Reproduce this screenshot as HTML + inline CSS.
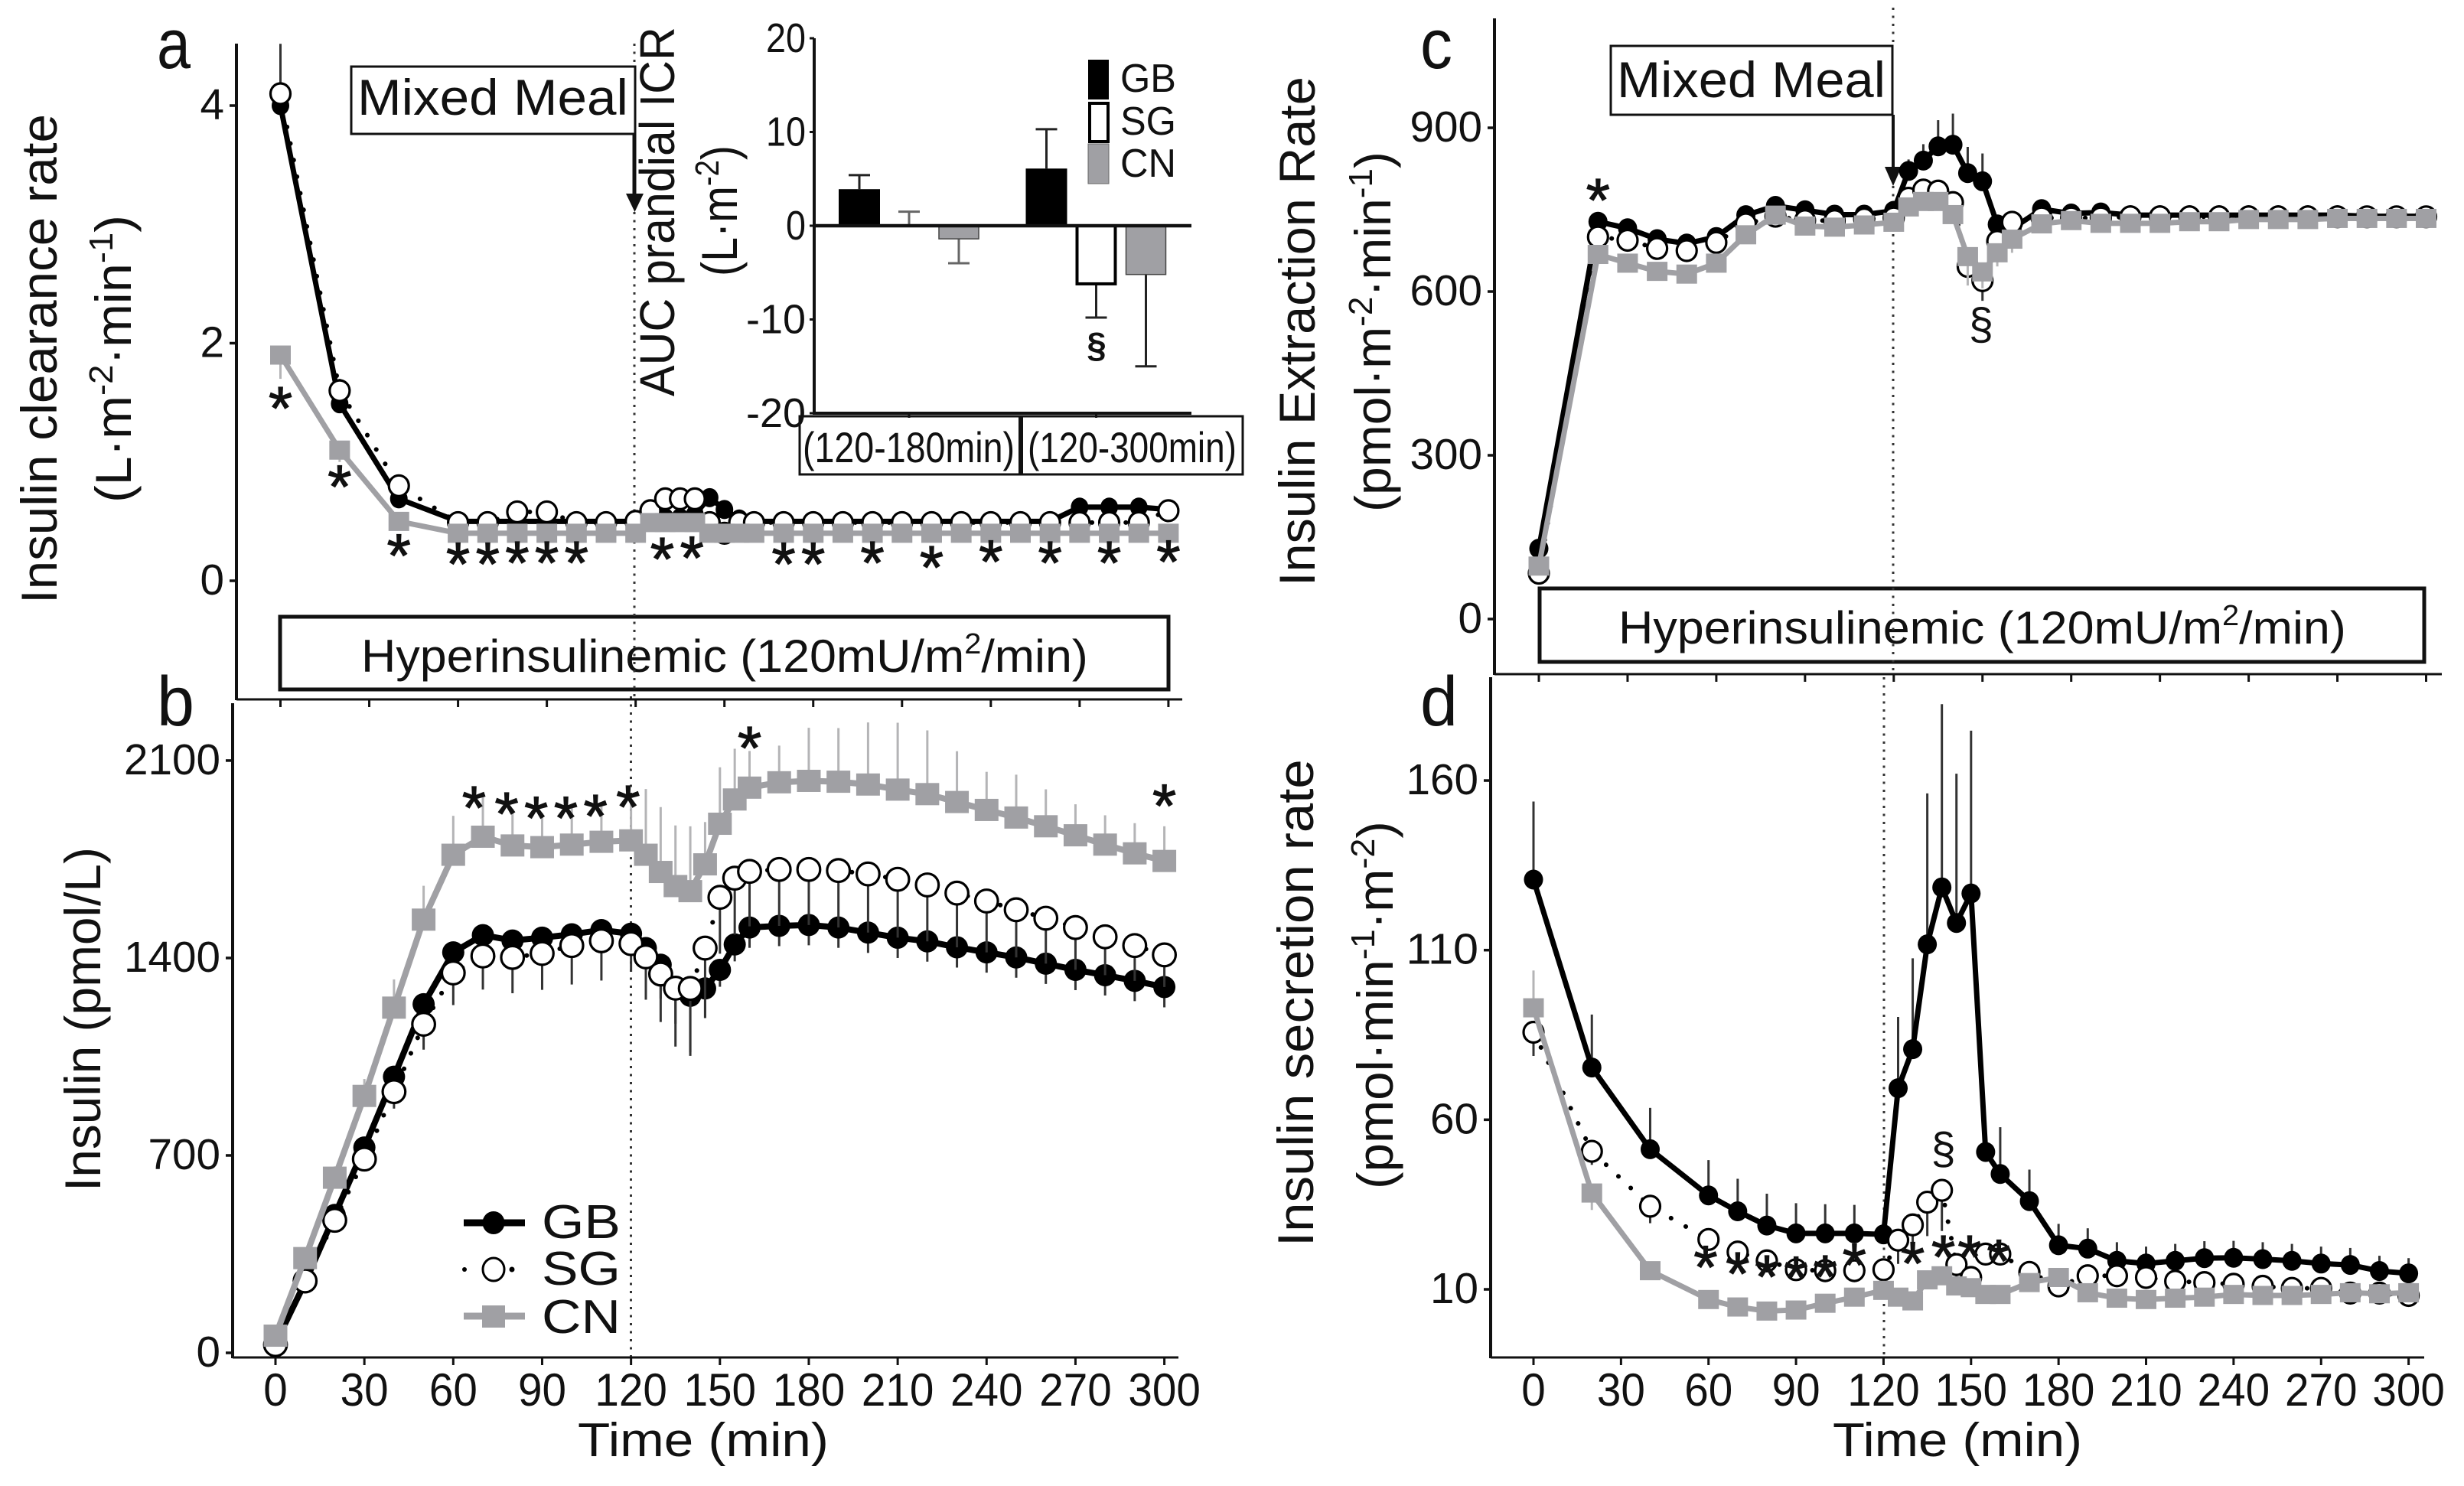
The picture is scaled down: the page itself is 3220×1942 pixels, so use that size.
<!DOCTYPE html>
<html lang="en">
<head>
<meta charset="utf-8">
<title>Insulin clearance, concentration, extraction and secretion after a mixed meal</title>
<style>
html,body{margin:0;padding:0;background:#fff;}
svg{display:block;}
text{font-family:"Liberation Sans",sans-serif;fill:#111;}
</style>
</head>
<body>
<svg id="figure" xmlns="http://www.w3.org/2000/svg" width="3220" height="1942" viewBox="0 0 3220 1942">
<rect x="0" y="0" width="3220" height="1942" fill="#fff"/>

<g font-size="92">
<text data-fit="44" transform="translate(205,89)">a</text>
<text data-fit="49" transform="translate(205,948)">b</text>
<text data-fit="42" transform="translate(1856,89)">c</text>
<text data-fit="49" transform="translate(1856,948)">d</text>
</g>

<g>
<text font-size="66" data-fit="640" transform="translate(74,789) rotate(-90)">Insulin clearance rate</text>
<text font-size="66" data-fit="376" transform="translate(171,657) rotate(-90)">(L·m<tspan font-size="44" dy="-24">-2</tspan><tspan dy="24">·min</tspan><tspan font-size="44" dy="-24">-1</tspan><tspan dy="24">)</tspan></text>
<text font-size="66" data-fit="450" transform="translate(131,1557) rotate(-90)">Insulin (pmol/L)</text>
<text font-size="66" data-fit="666" transform="translate(1718,766) rotate(-90)">Insulin Extraction Rate</text>
<text font-size="66" data-fit="471" transform="translate(1817,669) rotate(-90)">(pmol·m<tspan font-size="44" dy="-24">-2</tspan><tspan dy="24">·min</tspan><tspan font-size="44" dy="-24">-1</tspan><tspan dy="24">)</tspan></text>
<text font-size="66" data-fit="637" transform="translate(1716,1629) rotate(-90)">Insulin secretion rate</text>
<text font-size="66" data-fit="481" transform="translate(1820,1554) rotate(-90)">(pmol·min<tspan font-size="44" dy="-24">-1</tspan><tspan dy="24">·m</tspan><tspan font-size="44" dy="-24">-2</tspan><tspan dy="24">)</tspan></text>
<text font-size="62" data-fit="328" transform="translate(755,1903)">Time (min)</text>
<text font-size="62" data-fit="326" transform="translate(2395,1903)">Time (min)</text>
<text font-size="64" data-fit="483" transform="translate(881,518) rotate(-90)">AUC prandial ICR</text>
<text font-size="66" data-fit="171" transform="translate(963,361) rotate(-90)">(L·m<tspan font-size="44" dy="-24">-2</tspan><tspan dy="24">)</tspan></text>
</g>

<g fill="none" stroke="#111">
<rect x="459" y="87" width="371" height="88" stroke-width="3"/>
<rect x="2105" y="60" width="368" height="90" stroke-width="3"/>
<rect x="366" y="806" width="1161" height="95" stroke-width="5"/>
<rect x="2012" y="769" width="1156" height="96" stroke-width="5"/>
<rect x="1045" y="544" width="289" height="76" stroke-width="3"/>
<rect x="1334" y="544" width="290" height="76" stroke-width="3"/>
<line x1="1334" y1="544" x2="1334" y2="620" stroke-width="6"/>
</g>

<g>
<text font-size="66" data-fit="354" transform="translate(467,150)">Mixed Meal</text>
<text font-size="66" data-fit="351" transform="translate(2113,127)">Mixed Meal</text>
<text font-size="60" data-fit="950" transform="translate(472,878)">Hyperinsulinemic (120mU/m<tspan font-size="38" dy="-24">2</tspan><tspan dy="24">/min)</tspan></text>
<text font-size="60" data-fit="951" transform="translate(2115,841)">Hyperinsulinemic (120mU/m<tspan font-size="38" dy="-24">2</tspan><tspan dy="24">/min)</tspan></text>
<text font-size="56" data-fit="277" transform="translate(1049,604)">(120-180min)</text>
<text font-size="56" data-fit="273" transform="translate(1343,604)">(120-300min)</text>
</g>

<g fill="#111" stroke="#111">
<line x1="829" y1="175" x2="829" y2="256" stroke-width="5"/>
<polygon points="818,253 841,253 829.5,277" stroke="none"/>
<line x1="2474" y1="150" x2="2474" y2="222" stroke-width="4"/>
<polygon points="2463,218 2485,218 2474,243" stroke="none"/>
</g>

<g stroke="#333" stroke-width="3" stroke-dasharray="3 7.5" fill="none">
<line x1="829" y1="277" x2="829" y2="914"/>
<line x1="829" y1="57" x2="829" y2="87"/>
<line x1="824.5" y1="910" x2="824.5" y2="1774"/>
<line x1="2474" y1="243" x2="2474" y2="881"/>
<line x1="2474" y1="10" x2="2474" y2="60"/>
<line x1="2462" y1="885" x2="2462" y2="1774"/>
</g>

<g id="marks"></g>

<g>
<rect x="1422" y="78" width="27" height="52" fill="#000"/>
<rect x="1424" y="135" width="24" height="50" fill="#fff" stroke="#000" stroke-width="4"/>
<rect x="1422" y="188" width="27" height="52" fill="#a0a0a4" stroke="#666" stroke-width="1"/>
<text font-size="52" data-fit="73" transform="translate(1464,120)">GB</text>
<text font-size="52" data-fit="73" transform="translate(1464,176)">SG</text>
<text font-size="52" data-fit="73" transform="translate(1464,231)">CN</text>
</g>

<g>
<line x1="606" y1="1598" x2="686" y2="1598" stroke="#000" stroke-width="9"/>
<ellipse cx="645" cy="1598" rx="14.5" ry="15" fill="#000"/>
<circle cx="607" cy="1659" r="3" fill="#000"/>
<circle cx="669" cy="1659" r="3.5" fill="#000"/>
<ellipse cx="645" cy="1659" rx="14" ry="15" fill="#fff" stroke="#000" stroke-width="3"/>
<line x1="606" y1="1720" x2="686" y2="1720" stroke="#a0a0a4" stroke-width="9"/>
<rect x="630" y="1706" width="30" height="29" fill="#a0a0a4"/>
<text font-size="62" data-fit="103" transform="translate(708,1618)">GB</text>
<text font-size="62" data-fit="103" transform="translate(708,1679)">SG</text>
<text font-size="62" data-fit="103" transform="translate(708,1742)">CN</text>
</g>
</svg>

<script>
/* ---------- shared tick labels ---------- */
const xTickValues = [0,30,60,90,120,150,180,210,240,270,300];

/* ---------- panel a: insulin clearance rate ---------- */
const aTimes = [0,20,40,60,70,80,90,100,110,120,125,130,135,140,145,150,155,160,170,180,190,200,210,220,230,240,250,260,270,280,290,300];
const aGB = [4.0,1.49,0.69,0.5,0.5,0.5,0.5,0.5,0.5,0.5,0.52,0.53,0.53,0.56,0.7,0.6,0.52,0.5,0.5,0.5,0.5,0.5,0.5,0.5,0.5,0.5,0.5,0.5,0.62,0.62,0.62,0.6];
const aSG = [4.1,1.6,0.8,0.49,0.49,0.58,0.58,0.49,0.49,0.5,0.59,0.69,0.69,0.69,0.49,0.4,0.49,0.49,0.49,0.49,0.49,0.49,0.49,0.49,0.49,0.49,0.49,0.49,0.49,0.49,0.49,0.59];
const aCN = [1.9,1.1,0.5,0.4,0.4,0.4,0.4,0.4,0.4,0.4,0.49,0.49,0.49,0.49,0.4,0.4,0.4,0.4,0.4,0.4,0.4,0.4,0.4,0.4,0.4,0.4,0.4,0.4,0.4,0.4,0.4,0.4];
const aSGErr = [0.42,0.1,0.05,0,0,0,0,0,0,0,0,0,0,0,0,0,0,0,0,0,0,0,0,0,0,0,0,0,0,0,0,0];
const aCNErr = [-0.2,-0.1,0,0,0,0,0,0,0,0,0,0,0,0,0,0,0,0,0,0,0,0,0,0,0,0,0,0,0,0,0,0];
const aYTicks = [0,2,4];
const aStarTimes = [0,20,40,60,70,80,90,100,129,139,170,180,200,220,240,260,280,300];
const aStarValues = [1.52,0.86,0.28,0.21,0.21,0.22,0.22,0.22,0.25,0.26,0.21,0.21,0.22,0.18,0.23,0.22,0.22,0.23];

/* ---------- panel b: insulin concentration ---------- */
const bTimes = [0,10,20,30,40,50,60,70,80,90,100,110,120,125,130,135,140,145,150,155,160,170,180,190,200,210,220,230,240,250,260,270,280,290,300];
const bGB = [33,250,489,728,979,1236,1420,1481,1462,1472,1484,1499,1486,1435,1376,1297,1266,1292,1358,1448,1508,1514,1517,1508,1490,1472,1459,1438,1420,1402,1380,1358,1339,1319,1297];
const bSG = [29,255,470,687,926,1165,1347,1407,1402,1416,1444,1461,1451,1404,1343,1293,1292,1435,1615,1683,1707,1714,1714,1710,1698,1679,1659,1630,1602,1571,1541,1508,1475,1444,1411];
const bCN = [61,336,621,911,1224,1536,1766,1830,1799,1793,1802,1812,1817,1766,1705,1655,1637,1732,1876,1962,2004,2023,2028,2025,2015,1997,1981,1953,1925,1898,1867,1835,1802,1771,1744];
const bGBErr = [-10,-20,-30,-30,-40,-50,-50,-50,-50,-50,-50,-50,-50,-100,-120,-130,-200,-105,-60,-60,-72,-72,-72,-72,-72,-72,-72,-72,-72,-72,-72,-72,-72,-72,-72];
const bSGErr = [-10,-20,-25,-40,-60,-90,-114,-119,-127,-129,-138,-141,-100,-152,-170,-207,-239,-248,-200,-200,-195,-200,-197,-202,-208,-207,-200,-192,-182,-169,-161,-150,-136,-125,-114];
const bCNErr = [10,20,40,60,100,120,138,150,130,120,130,140,150,233,230,215,230,150,200,180,130,130,188,190,220,237,226,180,135,152,131,110,104,107,123];
const bYTicks = [0,700,1400,2100];
const bStarTimes = [67,78,88,98,108,119,160,300];
const bStarValues = [1962,1940,1925,1925,1931,1964,2173,1968];

/* ---------- panel c: insulin extraction rate ---------- */
const cTimes = [0,20,30,40,50,60,70,80,90,100,110,120,125,130,135,140,145,150,155,160,170,180,190,200,210,220,230,240,250,260,270,280,290,300];
const cGB = [129,728,716,696,688,700,740,757,749,741,741,748,821,840,866,869,817,802,723,715,751,743,745,740,740,740,740,740,740,740,740,738,738,738];
const cSG = [84,700,694,679,675,690,724,738,730,730,733,735,771,786,784,763,646,620,692,727,735,735,735,737,737,737,737,737,737,737,737,737,737,737];
const cCN = [97,668,652,637,632,652,704,740,720,718,722,727,755,765,765,741,664,636,671,696,724,730,725,725,725,728,728,732,732,732,734,734,734,734];
const cGBErr = [0,0,0,0,0,0,0,0,0,0,0,0,21,30,48,57,48,51,0,0,0,0,0,0,0,0,0,0,0,0,0,0,0,0];
const cSGErr = [0,0,0,0,0,0,0,0,0,0,0,0,0,0,0,0,-20,-37,0,0,0,0,0,0,0,0,0,0,0,0,0,0,0,0];
const cCNErr = [0,0,0,0,0,0,0,0,0,0,0,0,0,0,0,0,-53,-30,-25,-25,0,0,0,0,0,0,0,0,0,0,0,0,0,0];
const cYTicks = [0,300,600,900];
const cStarTimes = [20];
const cStarValues = [782];

/* ---------- panel d: insulin secretion rate ---------- */
const dTimes = [0,20,40,60,70,80,90,100,110,120,125,130,135,140,145,150,155,160,170,180,190,200,210,220,230,240,250,260,270,280,290,300];
const dGB = [130.8,75.4,51.3,37.7,33,28.8,26.5,26.5,26.5,26.2,69.3,80.8,111.7,128.5,118,126.7,50.5,44,36,23,22,18.4,17.6,18.4,19.2,19.3,18.9,18.4,17.6,17.2,15.4,14.7];
const dSG = [85.8,50.7,34.5,24.7,21,18.4,15.8,15.5,15.5,15.8,24.5,29,35.7,39.2,17.3,13.5,20.4,20.4,15,11,14,14,13.5,12.4,12,11.5,10.9,10.3,10.3,8.9,8.9,8.2];
const dCN = [93,38.4,15.5,7,4.8,3.6,3.9,5.9,7.7,9.7,7.7,6.6,12.8,14,11,10.5,8.5,8.5,12,13.5,9,7.4,7,7.4,7.7,8.5,8.2,8.2,8.5,9,8.7,9];
const dGBErr = [23,15.6,12.2,10.4,9.6,9.4,8.9,8.6,8.4,0,21,26.8,44.5,54,44,48,0,13.8,9.3,6.3,6,5.5,5,5,5,5,5,5,5,5,4.5,4.5];
const dSGErr = [-7,-4,-5,-3,-3,-2,-2,-2,-2,-2,-7,-9,-10,-12,-4,-2,-3,-3,-2,-2,-2,-2,-2,-2,-2,-2,-2,-2,-2,-2,-2,-2];
const dCNErr = [11,-5,0,0,0,0,0,0,0,0,0,0,0,0,0,0,0,0,0,0,0,0,0,0,0,0,0,0,0,0,0,0];
const dYTicks = [10,60,110,160];
const dStarTimes = [59,70,80,90,100,110,130,140.5,149.5,159.5];
const dStarValues = [18.9,17,16.1,15.8,16.1,19.6,20,22,22,20.7];

/* ---------- inset: AUC prandial ICR bars ---------- */
const insetGroups = ['120-180min','120-300min'];
const insetGB = [3.9,6.1];
const insetSG = [0,-6.2];
const insetCN = [-1.4,-5.2];
const insetGBErr = [1.5,4.2];
const insetSGErr = [1.5,-3.6];
const insetCNErr = [-2.6,-9.8];
const insetYTicks = [-20,-10,0,10,20];

/* ---------- axis functions ---------- */
const xA = t => 366.5 + t * 3.868;
const yA = v => 759 - v * 155.25;
const xB = t => 360 + t * 3.872;
const yB = v => 1768 - v * 0.3686;
const xC = t => 2011 + t * 3.865;
const yC = v => 809 - v * 0.7133;
const xD = t => 2004 + t * 3.812;
const yD = v => 1685 - (v - 10) * 4.433;
const yInset = v => 295 - v * 12.25;
const xInset = (group, series) => 1188 + group * 244.5 + (series - 1) * 65;

const SVGNS = 'http://www.w3.org/2000/svg';
const GRAY = '#a0a0a4';
const marks = document.getElementById('marks');

function mk(tag, attrs, parent, name) {
  const el = document.createElementNS(SVGNS, tag);
  for (const k in attrs) el.setAttribute(k, attrs[k]);
  
  
  parent.appendChild(el);
  return el;
}

function fitText(el, target) {
  const len = el.getComputedTextLength();
  el.setAttribute('transform', (el.getAttribute('transform') || '') + ' scale(' + (target / len) + ',1)');
}

function label(str, x, y, size, anchor, width, parent, name) {
  const el = mk('text', {'font-size': size, 'text-anchor': anchor, transform: 'translate(' + x + ',' + y + ')'}, parent, name);
  el.textContent = str;
  if (width) fitText(el, width);
  return el;
}

function drawAxes(cfg) {
  const g = mk('g', {stroke: '#111', fill: 'none'}, marks, cfg.id + '-axes');
  mk('line', {x1: cfg.left, y1: cfg.top, x2: cfg.left, y2: cfg.bottom + 1, 'stroke-width': 4}, g, cfg.id + '-y-axis');
  mk('line', {x1: cfg.left, y1: cfg.bottom, x2: cfg.right, y2: cfg.bottom, 'stroke-width': 3}, g, cfg.id + '-x-axis');
  cfg.yTicks.forEach(v => {
    mk('line', {x1: cfg.left - 9, y1: cfg.y(v), x2: cfg.left, y2: cfg.y(v), 'stroke-width': 3.5}, g, cfg.id + '-y-tick');
    const s = String(v);
    label(s, cfg.left - 16, cfg.y(v) + 18, 57, 'end', s.length * 31.5, marks, cfg.id + '-y-tick-label');
  });
  xTickValues.forEach(v => {
    mk('line', {x1: cfg.x(v), y1: cfg.bottom, x2: cfg.x(v), y2: cfg.bottom + 10, 'stroke-width': 3}, g, cfg.id + '-x-tick');
    if (cfg.xLabels) {
      const s = String(v);
      label(s, cfg.x(v), cfg.bottom + 63, 60, 'middle', s.length * 31.5, marks, cfg.id + '-x-tick-label');
    }
  });
}

function drawSeries(cfg, times, values, errs, kind) {
  const g = mk('g', {}, marks, cfg.id + '-series-' + kind);
  const errColor = kind === 'cn' ? '#b4b4b6' : '#333';
  if (errs) {
    times.forEach((t, i) => {
      if (!errs[i]) return;
      mk('line', {x1: cfg.x(t), y1: cfg.y(values[i]), x2: cfg.x(t), y2: cfg.y(values[i] + errs[i]), stroke: errColor, 'stroke-width': 3}, g, cfg.id + '-error-bar-' + kind);
    });
  }
  const pts = times.map((t, i) => cfg.x(t) + ',' + cfg.y(values[i])).join(' ');
  if (kind === 'gb') {
    mk('polyline', {points: pts, fill: 'none', stroke: '#000', 'stroke-width': cfg.lineWidth, 'stroke-linejoin': 'round'}, g, cfg.id + '-line-gb');
  } else if (kind === 'sg') {
    mk('polyline', {points: pts, fill: 'none', stroke: '#000', 'stroke-width': 6, 'stroke-linecap': 'round', 'stroke-dasharray': '0.1 22'}, g, cfg.id + '-line-sg');
  } else {
    mk('polyline', {points: pts, fill: 'none', stroke: GRAY, 'stroke-width': cfg.lineWidth, 'stroke-linejoin': 'round'}, g, cfg.id + '-line-cn');
  }
  times.forEach((t, i) => {
    const cx = cfg.x(t), cy = cfg.y(values[i]);
    if (kind === 'gb') {
      mk('ellipse', {cx: cx, cy: cy, rx: cfg.gbRx, ry: cfg.gbRy, fill: '#000'}, g, cfg.id + '-point-gb');
    } else if (kind === 'sg') {
      mk('ellipse', {cx: cx, cy: cy, rx: cfg.sgRx, ry: cfg.sgRy, fill: '#fff', stroke: '#000', 'stroke-width': 3.2}, g, cfg.id + '-point-sg');
    } else {
      mk('rect', {x: cx - cfg.cnW / 2, y: cy - cfg.cnH / 2, width: cfg.cnW, height: cfg.cnH, fill: GRAY}, g, cfg.id + '-point-cn');
    }
  });
}

function drawStars(cfg, times, values) {
  times.forEach((t, i) => {
    const el = label('*', cfg.x(t), cfg.y(values[i]) + 38, 80, 'middle', 0, marks, cfg.id + '-significance-star');
    el.setAttribute('stroke', '#111');
    el.setAttribute('stroke-width', '1.2');
  });
}

const panelA = {id: 'panel-a', left: 309, right: 1545, top: 57, bottom: 914, x: xA, y: yA, yTicks: aYTicks, xLabels: false, lineWidth: 7, gbRx: 11.5, gbRy: 12.5, sgRx: 13, sgRy: 13.5, cnW: 27, cnH: 25};
const panelB = {id: 'panel-b', left: 304, right: 1540, top: 919, bottom: 1774, x: xB, y: yB, yTicks: bYTicks, xLabels: true, lineWidth: 8, gbRx: 14.5, gbRy: 14.5, sgRx: 14.8, sgRy: 14.8, cnW: 31, cnH: 29};
const panelC = {id: 'panel-c', left: 1953, right: 3191, top: 24, bottom: 881, x: xC, y: yC, yTicks: cYTicks, xLabels: false, lineWidth: 7, gbRx: 12.5, gbRy: 13, sgRx: 13, sgRy: 13.5, cnW: 27, cnH: 25};
const panelD = {id: 'panel-d', left: 1948, right: 3168, top: 885, bottom: 1774, x: xD, y: yD, yTicks: dYTicks, xLabels: true, lineWidth: 7, gbRx: 12.5, gbRy: 13, sgRx: 13, sgRy: 13.5, cnW: 27, cnH: 25};

[panelA, panelB, panelC, panelD].forEach(drawAxes);

drawSeries(panelA, aTimes, aGB, null, 'gb');
drawSeries(panelA, aTimes, aSG, aSGErr, 'sg');
drawSeries(panelA, aTimes, aCN, aCNErr, 'cn');
drawStars(panelA, aStarTimes, aStarValues);

drawSeries(panelB, bTimes, bGB, bGBErr, 'gb');
drawSeries(panelB, bTimes, bSG, bSGErr, 'sg');
drawSeries(panelB, bTimes, bCN, bCNErr, 'cn');
drawStars(panelB, bStarTimes, bStarValues);

drawSeries(panelC, cTimes, cGB, cGBErr, 'gb');
drawSeries(panelC, cTimes, cSG, cSGErr, 'sg');
drawSeries(panelC, cTimes, cCN, cCNErr, 'cn');
drawStars(panelC, cStarTimes, cStarValues);
label('§', xC(149.5), yC(543) + 22, 58, 'middle', 0, marks, 'panel-c-section-mark');

drawSeries(panelD, dTimes, dGB, dGBErr, 'gb');
drawSeries(panelD, dTimes, dSG, dSGErr, 'sg');
drawSeries(panelD, dTimes, dCN, dCNErr, 'cn');
drawStars(panelD, dStarTimes, dStarValues);
label('§', xD(140.5), yD(52) + 22, 58, 'middle', 0, marks, 'panel-d-section-mark');

/* ---------- inset ---------- */
const inset = mk('g', {}, marks, 'inset-bar-chart');
function drawInsetSeries(values, errs, series, kind) {
  values.forEach((v, i) => {
    const cx = xInset(i, series);
    const tip = v + errs[i];
    const barErrColor = (i === 0 && series > 0) ? '#666' : '#222';
    mk('line', {x1: cx, y1: yInset(v), x2: cx, y2: yInset(tip), stroke: barErrColor, 'stroke-width': 3}, inset, 'inset-error-bar-' + kind);
    mk('line', {x1: cx - 14, y1: yInset(tip), x2: cx + 14, y2: yInset(tip), stroke: barErrColor, 'stroke-width': 3}, inset, 'inset-error-cap-' + kind);
    if (v === 0) return;
    const top = Math.min(yInset(v), yInset(0));
    const h = Math.abs(yInset(v) - yInset(0));
    if (kind === 'gb') {
      mk('rect', {x: cx - 27, y: top, width: 54, height: h, fill: '#000'}, inset, 'inset-bar-gb');
    } else if (kind === 'sg') {
      mk('rect', {x: cx - 25, y: top, width: 50, height: h, fill: '#fff', stroke: '#000', 'stroke-width': 4}, inset, 'inset-bar-sg');
    } else {
      mk('rect', {x: cx - 26, y: top, width: 52, height: h, fill: GRAY, stroke: '#444', 'stroke-width': 1.5}, inset, 'inset-bar-cn');
    }
  });
}
drawInsetSeries(insetGB, insetGBErr, 0, 'gb');
drawInsetSeries(insetSG, insetSGErr, 1, 'sg');
drawInsetSeries(insetCN, insetCNErr, 2, 'cn');
mk('line', {x1: 1064, y1: yInset(20), x2: 1064, y2: yInset(-20), stroke: '#111', 'stroke-width': 4}, inset, 'inset-y-axis');
mk('line', {x1: 1064, y1: yInset(0), x2: 1557, y2: yInset(0), stroke: '#111', 'stroke-width': 4.5}, inset, 'inset-zero-line');
mk('line', {x1: 1062, y1: yInset(-20), x2: 1557, y2: yInset(-20), stroke: '#111', 'stroke-width': 4}, inset, 'inset-x-axis');
insetGroups.forEach((name, i) => {
  mk('line', {x1: xInset(i, 1), y1: yInset(-20), x2: xInset(i, 1), y2: yInset(-20) + 6, stroke: '#111', 'stroke-width': 3}, inset, 'inset-x-tick');
});
insetYTicks.forEach(v => {
  mk('line', {x1: 1058, y1: yInset(v), x2: 1064, y2: yInset(v), stroke: '#111', 'stroke-width': 3}, inset, 'inset-y-tick');
  const s = String(v);
  label(s, 1053, yInset(v) + 18, 54, 'end', s.length * 26, inset, 'inset-y-tick-label');
});
const insetMark = label('§', 1433, 467, 46, 'middle', 0, inset, 'inset-section-mark');
insetMark.setAttribute('font-weight', 'bold');

/* ---------- fit static text to measured widths ---------- */
document.querySelectorAll('[data-fit]').forEach(el => fitText(el, parseFloat(el.getAttribute('data-fit'))));
</script>
</body>
</html>
